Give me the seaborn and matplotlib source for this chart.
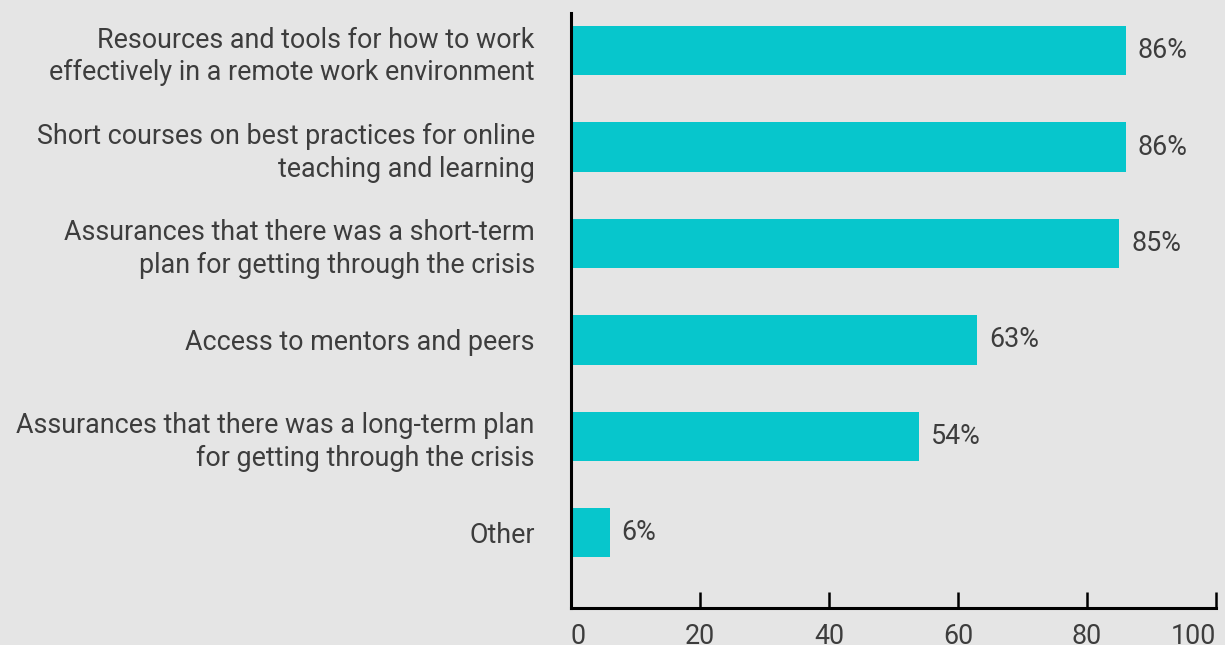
import matplotlib
matplotlib.use("Agg")
import matplotlib.pyplot as plt
import seaborn as sns
import pandas as pd

categories = [
    "Resources and tools for how to work\neffectively in a remote work environment",
    "Short courses on best practices for online\nteaching and learning",
    "Assurances that there was a short-term\nplan for getting through the crisis",
    "Access to mentors and peers",
    "Assurances that there was a long-term plan\nfor getting through the crisis",
    "Other",
]
percentages = [86, 86, 85, 63, 54, 6]
x_ticks = [0, 20, 40, 60, 80, 100]

BG = "#e5e5e5"
BAR = "#07c6cc"
TEXT = "#3d3d3d"
FS = 19.4

sns.set_theme(style="white")
plt.rcParams["font.family"] = ["Roboto", "DejaVu Sans"]

df = pd.DataFrame({"category": categories, "pct": percentages})

fig = plt.figure(figsize=(12.25, 6.45), dpi=100, facecolor=BG)
ax = fig.add_axes([0.4661, 0.0574, 0.9927 - 0.4661, 0.9798 - 0.0574])
ax.set_facecolor(BG)

sns.barplot(data=df, y="category", x="pct", orient="h", color=BAR,
            saturation=1, width=0.51, linewidth=0, edgecolor=BAR, ax=ax)

for i, v in enumerate(percentages):
    ax.annotate(f"{v}%", xy=(v, i), xytext=(8.5, 0), textcoords="offset points",
                va="center", ha="left", fontsize=FS, color=TEXT)

ax.set_xlim(0, 100)
ax.set_ylim(5.78, -0.39)
ax.set_xlabel("")
ax.set_ylabel("")

for side in ("top", "right"):
    ax.spines[side].set_visible(False)
for side in ("left", "bottom"):
    ax.spines[side].set_color("black")
    ax.spines[side].set_linewidth(2.2)

ax.set_xticks(x_ticks)
ax.set_xticklabels([str(t) for t in x_ticks])
ax.tick_params(axis="x", bottom=True, direction="in", length=11.5, width=1.8,
               color="black", pad=10.5, labelsize=FS, labelcolor=TEXT)
ax.tick_params(axis="y", left=False, length=0, pad=26, labelsize=FS,
               labelcolor=TEXT)

for lbl in ax.get_yticklabels():
    lbl.set_linespacing(1.27)

xl = ax.get_xticklabels()
xl[0].set_ha("left")
xl[-1].set_ha("right")

fig.savefig("out.png", dpi=100, facecolor=BG)
